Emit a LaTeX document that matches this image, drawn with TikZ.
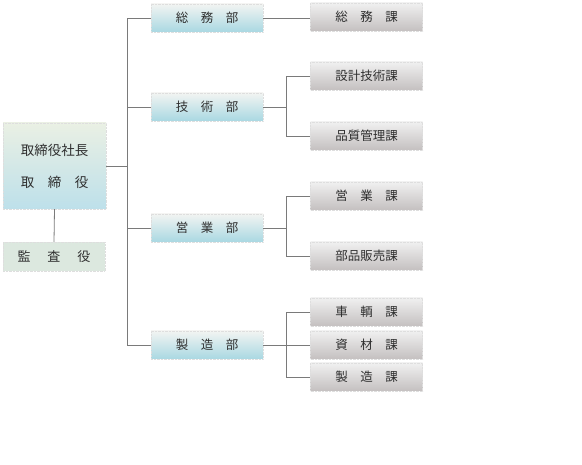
\documentclass[tikz,border=0pt]{standalone}
\usepackage{fontspec}
\usepackage{tikz}
\newfontfamily\jp{Noto Sans CJK JP}
\definecolor{lineg}{HTML}{7A7A7A}
\definecolor{txtg}{HTML}{2E2E2E}
\definecolor{bdr}{HTML}{DEDEDE}
\definecolor{bluetop}{HTML}{F2F4F2}
\definecolor{bluebot}{HTML}{A9D8E2}
\definecolor{greytop}{HTML}{F0F0F0}
\definecolor{greybot}{HTML}{C4C0C0}
\definecolor{pretop}{HTML}{EAF0E4}
\definecolor{prebot}{HTML}{BDE0EA}
\definecolor{audit}{HTML}{DCE8DF}
\begin{document}
\begin{tikzpicture}[x=1pt,y=-1pt]
\tikzstyle{every node}+=[inner sep=0pt,text=txtg,font=\jp\fontsize{12.5}{15}\selectfont]
\tikzstyle{bu}=[draw=bdr,densely dotted,top color=bluetop,bottom color=bluebot,minimum width=112pt,minimum height=28pt]
\tikzstyle{ka}=[draw=bdr,densely dotted,top color=greytop,bottom color=greybot,minimum width=112pt,minimum height=28pt]
\tikzstyle{wire}=[lineg,line width=0.8pt]
\useasboundingbox (0,0) rectangle (582,465);
\node [draw=bdr,densely dotted,top color=pretop,bottom color=prebot,minimum width=103pt,minimum height=86pt,align=center,font=\jp\fontsize{13.5}{32}\selectfont] (pres) at (54.5,166) {取締役社長\\\makebox[5em][s]{取\hfill 締\hfill 役}};
\node [draw=bdr,densely dotted,fill=audit,minimum width=102pt,minimum height=29pt,font=\jp\fontsize{13}{15}\selectfont] (kansa) at (54,256.5) {監\hspace{1.3em}査\hspace{1.3em}役};
\node [bu] (soumu) at (207,18) {総\hspace{1em}務\hspace{1em}部};
\node [bu] (gijutsu) at (207,107) {技\hspace{1em}術\hspace{1em}部};
\node [bu] (eigyou) at (207,228) {営\hspace{1em}業\hspace{1em}部};
\node [bu] (seizou) at (207,345) {製\hspace{1em}造\hspace{1em}部};
\node [ka] (soumuka) at (366.5,17) {総\hspace{1em}務\hspace{1em}課};
\node [ka] (sekkei) at (366.5,76) {設計技術課};
\node [ka] (hinshitsu) at (366.5,136) {品質管理課};
\node [ka] (eigyouka) at (366.5,196) {営\hspace{1em}業\hspace{1em}課};
\node [ka] (buhin) at (366.5,256) {部品販売課};
\node [ka] (sharyou) at (366.5,312) {車\hspace{1em}輌\hspace{1em}課};
\node [ka] (shizai) at (366.5,345) {資\hspace{1em}材\hspace{1em}課};
\node [ka] (seizouka) at (366.5,377) {製\hspace{1em}造\hspace{1em}課};
% president and trunk
\draw [wire] (pres.south) -- (kansa.north);
\draw [wire] (pres.east) -- ++(22,0);
\draw [wire] (soumu.west) -- ++(-23,0) |- (seizou.west);
\draw [wire] (gijutsu.west) -- ++(-23,0);
\draw [wire] (eigyou.west) -- ++(-23,0);
% departments to sections
\draw [wire] (soumu.east) -- (soumu.east -| soumuka.west);
\draw [wire] (gijutsu.east) -- ++(24,0);
\draw [wire] (sekkei.west) -- ++(-24,0) |- (hinshitsu.west);
\draw [wire] (eigyou.east) -- ++(24,0);
\draw [wire] (eigyouka.west) -- ++(-24,0) |- (buhin.west);
\draw [wire] (seizou.east) -- (seizou.east -| shizai.west);
\draw [wire] (sharyou.west) -- ++(-24,0) |- (seizouka.west);
\end{tikzpicture}
\end{document}
